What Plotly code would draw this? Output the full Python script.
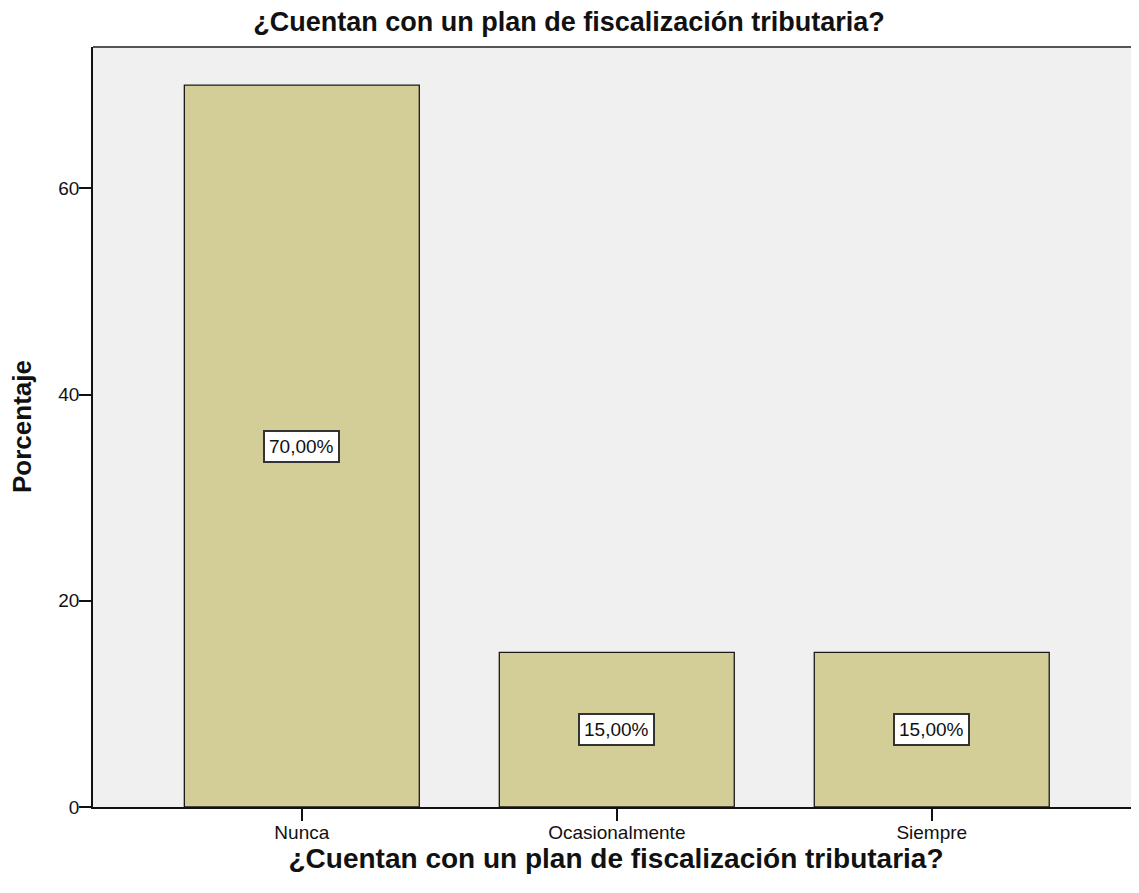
import plotly.graph_objects as go

categorias = ["Nunca", "Ocasionalmente", "Siempre"]
porcentajes = [70.0, 15.0, 15.0]
etiquetas = ["70,00%", "15,00%", "15,00%"]
ticks_y = [0, 20, 40, 60]

titulo = "¿Cuentan con un plan de fiscalización tributaria?"
fuente = "Liberation Sans, Arial, sans-serif"

fig = go.Figure(go.Bar(
    x=list(range(len(categorias))),
    y=porcentajes,
    width=0.746,
    marker=dict(color="#D3CD97", line=dict(color="#1a1a1a", width=1.3)),
    hoverinfo="skip",
))

for i, (v, t) in enumerate(zip(porcentajes, etiquetas)):
    fig.add_annotation(
        x=i, y=v / 2, text=t, showarrow=False,
        font=dict(family=fuente, size=19, color="#111"),
        bgcolor="white", bordercolor="#333", borderwidth=2, borderpad=4,
    )

# titulo del eje y como anotacion para poder acercarlo al borde
fig.add_annotation(
    xref="paper", yref="paper", x=0, y=0.5, xshift=-71,
    text="<b>Porcentaje</b>", textangle=-90, showarrow=False,
    xanchor="center", yanchor="middle",
    font=dict(family=fuente, size=26, color="#111"),
)

# borde superior del area de trazado (el derecho queda fuera de la imagen)
fig.add_shape(type="line", xref="paper", yref="paper", x0=0, x1=1, y0=1, y1=1,
              line=dict(color="#555", width=2))

# la pagina tiene 8px de margen, asi que la figura se reduce para caber
fig.update_layout(
    width=1131, height=885,
    margin=dict(l=85, r=0, t=39, b=86),
    paper_bgcolor="white",
    plot_bgcolor="#F0F0F0",
    showlegend=False,
    font=dict(family=fuente, color="#111"),
    title=dict(text="<b>" + titulo + "</b>", x=0.496, xanchor="center",
               y=1 - 4 / 885, yanchor="top",
               font=dict(size=27, family=fuente)),
)

fig.update_xaxes(
    range=[-0.663, 2.658],
    tickmode="array", tickvals=list(range(len(categorias))), ticktext=categorias,
    ticks="outside", ticklen=12, tickcolor="#111", tickwidth=1.5,
    tickfont=dict(size=19), ticklabelstandoff=-5,
    showline=True, linecolor="#111", linewidth=1.5,
    showgrid=False, zeroline=False,
    title=dict(text="<b>" + titulo + "</b>", font=dict(size=28), standoff=5),
)

fig.update_yaxes(
    range=[0, 73.7],
    tickmode="array", tickvals=ticks_y,
    ticks="outside", ticklen=12, tickcolor="#111", tickwidth=1.5,
    tickfont=dict(size=19), ticklabelstandoff=-4,
    showline=True, linecolor="#111", linewidth=1.5,
    showgrid=False, zeroline=False,
)

fig.write_html("out.html")
